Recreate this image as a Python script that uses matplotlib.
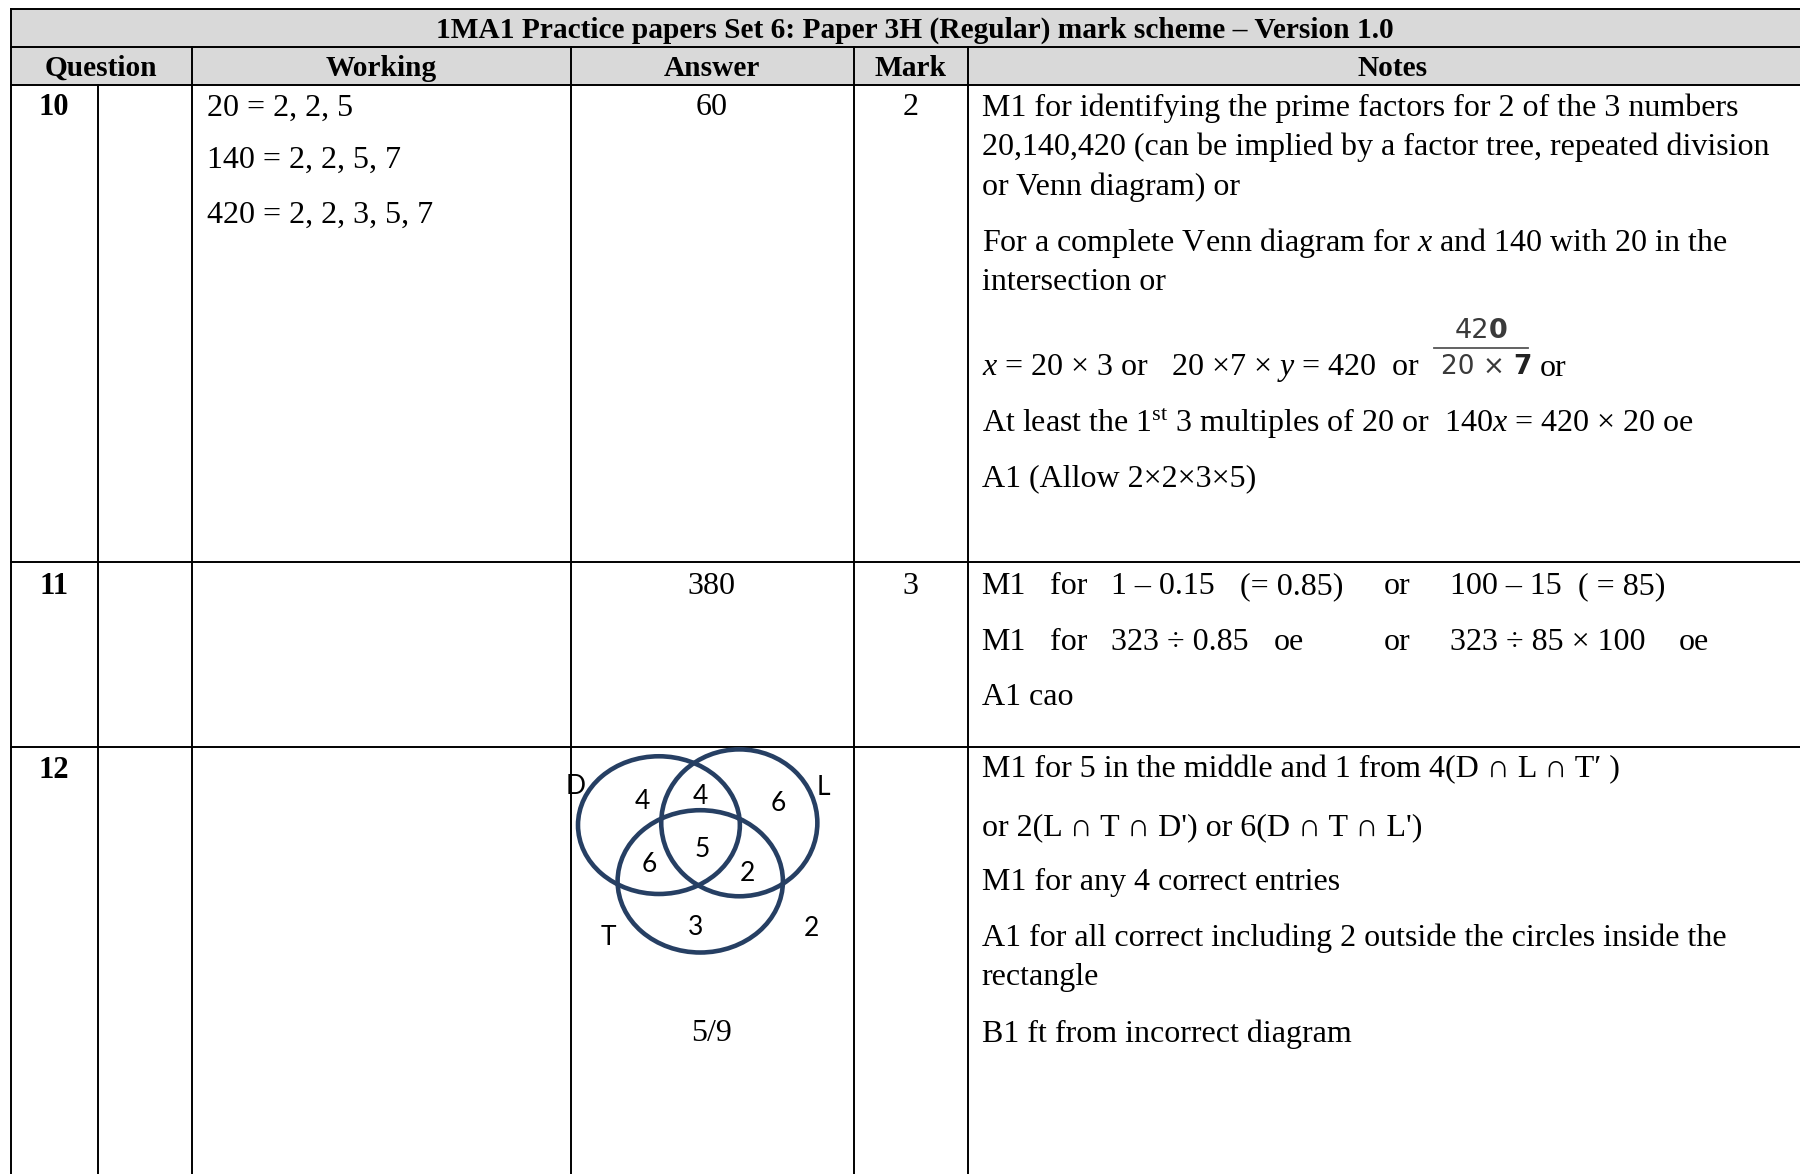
import matplotlib.pyplot as plt
from matplotlib.patches import Ellipse, Rectangle

plt.rcParams['font.family'] = ['Liberation Serif', 'DejaVu Serif']
plt.rcParams['mathtext.fontset'] = 'custom'
plt.rcParams['mathtext.rm'] = 'Liberation Serif'
plt.rcParams['mathtext.it'] = 'Liberation Serif:italic'
plt.rcParams['mathtext.bf'] = 'Liberation Serif:bold'

# table content
title = '1MA1 Practice papers Set 6: Paper 3H (Regular) mark scheme \u2013 Version 1.0'
headers = ['Question', 'Working', 'Answer', 'Mark', 'Notes']
questions = ['10', '11', '12']
answers = ['60', '380', '5/9']
marks = ['2', '3', '']
working_10 = ['20 = 2, 2, 5', '140 = 2, 2, 5, 7', '420 = 2, 2, 3, 5, 7']

notes_10 = ['M1 for identifying the prime factors for 2 of the 3 numbers',
            '20,140,420 (can be implied by a factor tree, repeated division',
            'or Venn diagram) or',
            'For a complete Venn diagram for $x$ and 140 with 20 in the',
            'intersection or',
            '$x$ = 20 \u00d7 3 or   20 \u00d77 \u00d7 $y$ = 420  or',
            'At least the 1$^{\\mathrm{st}}$ 3 multiples of 20 or  140$x$ = 420 \u00d7 20 oe',
            'A1 (Allow 2\u00d72\u00d73\u00d75)']
frac_num = ['42', '0']
frac_den = ['20 \u00d7 ', '7']

notes_11 = [['M1', 'for', '1 \u2013 0.15', '(= 0.85)', 'or', '100 \u2013 15', '( = 85)'],
            ['M1', 'for', '323 \u00f7 0.85', 'oe', 'or', '323 \u00f7 85 \u00d7 100', 'oe'],
            ['A1 cao']]

notes_12 = ['M1 for 5 in the middle and 1 from 4(D \u2229 L \u2229 T\u2032 )',
            "or 2(L \u2229 T \u2229 D') or 6(D \u2229 T \u2229 L')",
            'M1 for any 4 correct entries',
            'A1 for all correct including 2 outside the circles inside the',
            'rectangle',
            'B1 ft from incorrect diagram']

venn_sets = ['D', 'L', 'T']
venn_counts = ['4', '4', '6', '5', '6', '2', '3', '2']

# layout (pixels of a 1568 x 1023 view)
col_x = [10, 167, 497, 744, 843]
q_split = 85
row_y = [8, 41, 74, 490, 651]
header_x = [88, 332, 620, 793, 1213]
row_text_y = [94, 511, 671]
working_y = [94, 140, 188]
notes_10_y = [94, 128, 163, 212, 246, 321, 369, 417]
notes_11_y = [511, 560, 608]
notes_11_x = [[855, 915, 968, 1080, 1205, 1263, 1375],
              [855, 915, 968, 1110, 1205, 1263, 1462],
              [855]]
notes_12_y = [671, 721, 769, 818, 852, 901]
answer_12_y = 901
ellipses = [(574, 719, 141, 120), (644, 717, 136, 128), (610, 768, 144, 124)]
set_label_xy = [(501, 685), (717, 686), (530, 817)]
count_xy = [(560, 698), (610, 694), (678, 700), (612, 740),
            (566, 753), (651, 761), (606, 808), (707, 809)]

W, H = 1568, 1023
fig = plt.figure(figsize=(18, 11.74), dpi=100)
ax = fig.add_axes([0, 0, 1, 1])
ax.set_xlim(0, W)
ax.set_ylim(H, 0)
ax.axis('off')

body = 23
head = 21.2
lw = 1.4

# grey title and header rows
ax.add_patch(Rectangle((col_x[0], row_y[0]), W - col_x[0], row_y[2] - row_y[0],
                       facecolor='#d9d9d9', edgecolor='none', zorder=0))

# grid lines
for y in row_y:
    ax.plot([col_x[0], W], [y, y], color='black', lw=lw, solid_capstyle='projecting')
ax.plot([col_x[0], col_x[0]], [row_y[0], H], color='black', lw=lw)
for x in col_x[1:]:
    ax.plot([x, x], [row_y[1], H], color='black', lw=lw, zorder=3)
ax.plot([q_split, q_split], [row_y[2], H], color='black', lw=lw)

# title and headers
ax.text(797, 26.5, title, ha='center', va='center', fontsize=head, fontweight='bold')
for hx, h in zip(header_x, headers):
    ax.text(hx, 59.5, h, ha='center', va='center', fontsize=head, fontweight='bold')

# question numbers, answers, marks
for y, q, a, m in zip(row_text_y, questions, answers, marks):
    ax.text(47, y, q, ha='center', va='center', fontsize=22, fontweight='bold')
    if q != '12':
        ax.text(620, y, a, ha='center', va='center', fontsize=body)
    ax.text(793, y, m, ha='center', va='center', fontsize=body)
ax.text(620, answer_12_y, answers[2], ha='center', va='center', fontsize=body)

# working for question 10
for y, t in zip(working_y, working_10):
    ax.text(180, y, t, ha='left', va='center', fontsize=body)

# notes
for y, t in zip(notes_10_y, notes_10):
    ax.text(855, y, t, ha='left', va='center', fontsize=body)
ax.text(1297, 288, frac_num[0], ha='right', va='center', fontsize=19.5,
        family='DejaVu Sans', color='#3a3a3a')
ax.text(1297, 288, frac_num[1], ha='left', va='center', fontsize=19.5,
        family='DejaVu Sans', color='#3a3a3a', fontweight='bold')
ax.plot([1249, 1331], [303, 303], color='#555555', lw=1.3)
ax.text(1318, 320, frac_den[0], ha='right', va='center', fontsize=19,
        family='DejaVu Sans', color='#3a3a3a')
ax.text(1318, 320, frac_den[1], ha='left', va='center', fontsize=19,
        family='DejaVu Sans', color='#222222', fontweight='bold')
ax.text(1341, 321, 'or', ha='left', va='center', fontsize=body)

for y, xs, parts in zip(notes_11_y, notes_11_x, notes_11):
    for x, t in zip(xs, parts):
        ax.text(x, y, t, ha='left', va='center', fontsize=body)

for y, t in zip(notes_12_y, notes_12):
    ax.text(855, y, t, ha='left', va='center', fontsize=body)

# Venn diagram for question 12
for cx, cy, w, h in ellipses:
    ax.add_patch(Ellipse((cx, cy), w, h, fill=False, edgecolor='#263f63', lw=3.3, zorder=2))
for (x, y), s in zip(set_label_xy, venn_sets):
    ax.text(x, y, s, ha='center', va='center', fontsize=19, family='Lato', zorder=1)
for (x, y), c in zip(count_xy, venn_counts):
    ax.text(x, y, c, ha='center', va='center', fontsize=19, family='Lato')

fig.savefig('out.png', dpi=100)
